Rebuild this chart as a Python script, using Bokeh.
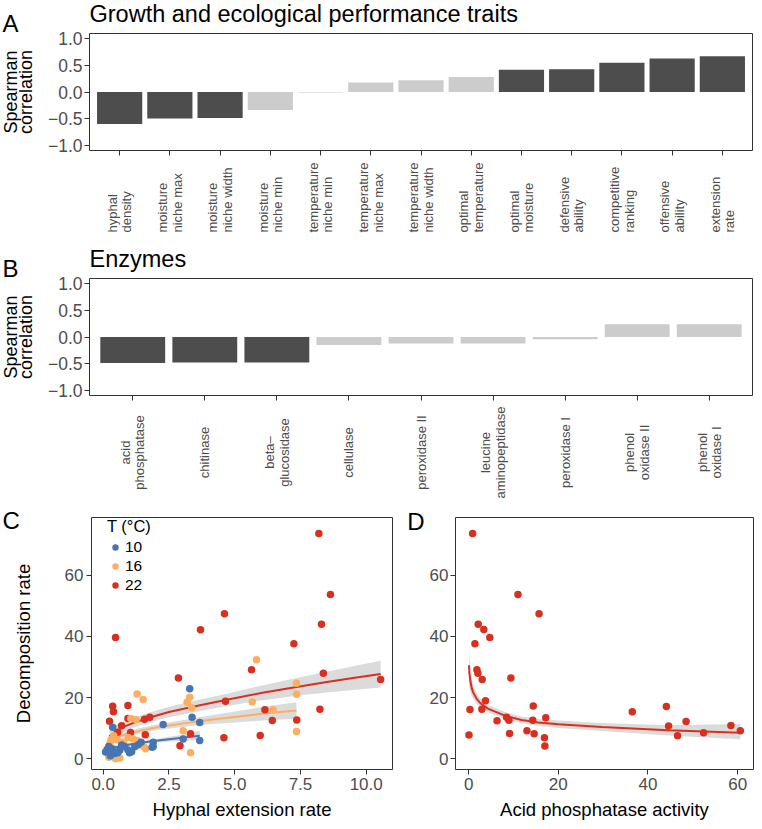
import numpy as np
from bokeh.plotting import figure
from bokeh.models import Range1d, FixedTicker, Legend, LegendItem
from bokeh.core.properties import value
from bokeh.layouts import column, row
from bokeh.embed import file_html
from bokeh.resources import INLINE

FONT = "Liberation Sans"

# ---------------- data ----------------
a_traits = ["hyphal\ndensity", "moisture\nniche max", "moisture\nniche width", "moisture\nniche min",
            "temperature\nniche min", "temperature\nniche max", "temperature\nniche width",
            "optimal\ntemperature", "optimal\nmoisture", "defensive\nability", "competitive\nranking",
            "offensive\nability", "extension\nrate"]
a_rho = [-0.60, -0.50, -0.49, -0.34, -0.01, 0.18, 0.22, 0.28, 0.42, 0.43, 0.55, 0.63, 0.67]
a_signif = [True, True, True, False, False, False, False, False, True, True, True, True, True]

b_enzymes = ["acid\nphosphatase", "chitinase", "beta–\nglucosidase", "cellulase", "peroxidase II",
             "leucine\naminopeptidase", "peroxidase I", "phenol\noxidase II", "phenol\noxidase I"]
b_rho = [-0.49, -0.48, -0.48, -0.15, -0.12, -0.12, -0.04, 0.24, 0.24]
b_signif = [True, True, True, False, False, False, False, False, False]

y_ticks_rho = [-1.0, -0.5, 0.0, 0.5, 1.0]
y_tick_labels_rho = ["−1.0", "−0.5", "0.0", "0.5", "1.0"]

temps = ["10", "16", "22"]
temp_colors = ["#4575b4", "#fdae61", "#d7301f"]

c10_x = [3.29, 3.38, 3.67, 3.67, 3.04, 2.28, 0.36, 1.90, 1.90, 0.09, 0.21, 0.34, 0.43, 0.63, 0.81,
         0.94, 1.08, 1.20, 1.33, 0.27, 0.15, 0.55, 0.70, 1.00, 1.44, 1.86]
c10_y = [22.9, 13.6, 11.9, 6.0, 6.5, 11.2, 10.3, 5.4, 4.0, 2.2, 4.0, 3.3, 1.7, 2.8, 4.0,
         2.9, 2.3, 3.9, 4.6, 1.0, 3.0, 2.0, 4.5, 2.0, 5.4, 3.8]
c16_x = [5.83, 7.35, 7.35, 5.67, 6.46, 7.35, 3.29, 3.19, 3.36, 3.04, 3.32, 1.29, 1.52, 1.05, 1.25,
         0.30, 0.21, 0.47, 0.63, 1.14, 1.29, 1.54, 1.61, 0.78, 0.40, 0.25, 0.53, 0.95]
c16_y = [32.4, 24.7, 21.1, 18.6, 16.0, 8.9, 20.1, 18.5, 16.7, 9.2, 2.0, 21.2, 19.4, 13.2, 12.8,
         6.2, 0.5, 0.0, 0.3, 6.5, 6.0, 4.0, 3.3, 5.4, 7.5, 5.0, 6.2, 7.0]
c22_x = [8.20, 8.64, 4.61, 3.70, 0.47, 8.30, 7.25, 5.64, 8.37, 10.55, 2.86, 4.65, 6.15, 8.24, 6.43,
         7.36, 4.59, 5.97, 3.32, 2.92, 0.36, 0.39, 0.24, 0.94, 0.94, 0.70, 1.04, 0.55, 1.57, 1.77, 1.60]
c22_y = [73.7, 53.7, 47.4, 42.2, 39.7, 44.0, 37.6, 29.1, 28.0, 25.9, 26.4, 18.8, 16.0, 16.2, 12.5,
         12.7, 6.9, 7.6, 8.2, 4.3, 17.2, 15.4, 12.3, 17.4, 13.2, 10.8, 8.6, 8.7, 12.9, 13.6, 7.9]

# fitted curves and 95% bands
c10_fit_x = [0.09, 0.2, 0.4, 0.7, 1.0, 1.5, 2.0, 2.5, 3.0, 3.67]
c10_fit_y = [2.7, 3.1, 3.6, 4.2, 4.7, 5.3, 5.9, 6.4, 6.9, 7.5]
c10_fit_lo = [1.7, 2.2, 2.9, 3.6, 4.15, 4.75, 5.3, 5.6, 5.9, 6.0]
c10_fit_hi = [3.7, 4.0, 4.3, 4.8, 5.25, 5.85, 6.5, 7.2, 7.9, 9.1]
c16_fit_x = [0.21, 0.4, 0.7, 1.0, 1.5, 2.0, 3.0, 4.0, 5.0, 6.0, 7.35]
c16_fit_y = [6.0, 6.8, 7.6, 8.35, 9.3, 10.2, 11.5, 12.7, 13.7, 14.7, 15.8]
c16_fit_lo = [4.2, 5.5, 6.6, 7.45, 8.4, 9.3, 10.4, 11.3, 11.9, 12.5, 13.1]
c16_fit_hi = [7.8, 8.1, 8.6, 9.25, 10.2, 11.1, 12.6, 14.1, 15.5, 16.9, 18.5]
c22_fit_x = [0.24, 0.47, 0.8, 1.2, 1.8, 2.5, 3.5, 4.65, 6.0, 7.35, 8.5, 9.5, 10.55]
c22_fit_y = [7.4, 9.0, 10.5, 11.9, 13.6, 15.3, 17.2, 19.2, 21.5, 23.5, 25.1, 26.4, 27.7]
c22_fit_lo = [4.8, 7.0, 8.8, 10.3, 12.0, 13.6, 15.3, 17.2, 19.1, 20.6, 21.7, 22.5, 23.3]
c22_fit_hi = [10.0, 11.0, 12.2, 13.5, 15.2, 17.0, 19.1, 21.2, 23.9, 26.4, 28.5, 30.3, 32.1]

d_x = [0.88, 11.0, 15.7, 2.13, 3.38, 4.71, 1.40, 1.84, 2.06, 3.02, 9.42, 3.75, 0.29, 2.94, 14.4,
       6.33, 8.46, 8.98, 14.3, 17.2, 13.0, 14.6, 9.12, 16.9, 17.0, 0.07, 36.5, 44.1, 44.6, 46.6,
       48.5, 52.4, 58.5, 60.6]
d_y = [73.7, 53.7, 47.4, 44.0, 42.3, 39.7, 37.6, 29.1, 28.0, 25.9, 26.4, 19.0, 16.1, 16.2, 17.3,
       12.4, 13.6, 12.6, 12.6, 13.4, 9.2, 8.2, 8.3, 6.9, 4.2, 7.8, 15.4, 17.1, 10.7, 7.5,
       12.2, 8.5, 10.9, 9.2]
d_fit_x = [0.07, 0.15, 0.37, 0.7, 1.1, 1.8, 2.6, 4.4, 8.1, 11.8, 15.5, 20, 29.7, 44.5, 60.6]
d_fit_y = [30.6, 28.2, 25.6, 23.0, 21.4, 19.6, 18.2, 16.3, 14.1, 12.7, 11.9, 11.3, 10.4, 9.3, 8.5]
d_fit_lo = [24.5, 23.5, 22.0, 20.5, 19.3, 17.9, 16.8, 15.1, 13.0, 11.6, 10.8, 10.1, 9.1, 7.6, 6.4]
d_fit_hi = [37.5, 33.5, 29.5, 25.8, 23.6, 21.4, 19.7, 17.6, 15.3, 13.8, 13.0, 12.5, 11.7, 11.0, 11.4]

c_xticks = [0, 2.5, 5, 7.5, 10]
c_xtick_labels = ["0.0", "2.5", "5.0", "7.5", "10.0"]
cd_yticks = [0, 20, 40, 60]
d_xticks = [0, 20, 40, 60]

DARK = "#4d4d4d"
LIGHT = "#cccccc"
TICK_COL = "#333333"
TICKLAB_COL = "#4d4d4d"
W = 760


# ---------------- helpers ----------------
def style_axes(p, size):
    p.xgrid.visible = False
    p.ygrid.visible = False
    p.outline_line_color = "#333333"
    p.outline_line_width = 1
    p.background_fill_color = "white"
    p.border_fill_color = "white"
    for ax in (p.xaxis[0], p.yaxis[0]):
        ax.axis_line_color = None
        ax.major_tick_line_color = TICK_COL
        ax.major_tick_out = 5
        ax.major_tick_in = 0
        ax.minor_tick_line_color = None
        ax.major_label_text_font = FONT
        ax.major_label_text_color = TICKLAB_COL
        ax.major_label_text_font_size = size
        ax.major_label_standoff = 2
        ax.axis_label_text_font = FONT
        ax.axis_label_text_font_style = "normal"
        ax.axis_label_text_color = "black"
        ax.axis_label_text_font_size = "18.5px"


def strip(w, h, xr=None, bl=0, br=0):
    fw = w - bl - br
    p = figure(width=w, height=h, x_range=xr if xr is not None else Range1d(0, fw),
               y_range=Range1d(0, h), output_backend="svg", toolbar_location=None,
               title_location=None, x_axis_location=None, y_axis_location=None,
               min_border_left=bl, min_border_right=br, min_border_top=0, min_border_bottom=0)
    p.outline_line_color = None
    p.background_fill_color = "white"
    p.border_fill_color = "white"
    p.grid.visible = False
    return p


def put_text(p, xs, ys, texts, size, color="black", angle=0.0, align="left", baseline="middle"):
    p.text(x=xs, y=ys, text=texts, angle=angle, text_align=align, text_baseline=baseline,
           text_font=value(FONT), text_font_size=value(size), text_color=color)


def mid(baseline_from_bottom, size_px):
    # vertical centre of a text line whose alphabetic baseline sits at the given height
    return baseline_from_bottom + 0.3465 * size_px


def bar_block(cats, vals, signif, letter, title, label_mode, label_local_y, labels_h):
    n = len(cats)
    xr = Range1d(0.4, n + 0.6)
    # left strip: panel letter + y-axis title (156 px tall, 41 wide)
    left = strip(41, 156)
    put_text(left, [2], [mid(156 - 31.5, 24)], [letter], "24px")
    put_text(left, [10.5, 25.5], [64.5, 64.5], ["Spearman", "correlation"], "18px",
             angle=np.pi / 2, align="center")
    # title strip (28 px), frame aligned with the bar frame
    ht = strip(W - 41, 28, bl=48, br=8)
    put_text(ht, [0], [mid(28 - 21.5, 23.5)], [title], "23.5px")
    # bars: frame 117 px, 5 px above for the top tick label, 6 px below for ticks
    p = figure(width=W - 41, height=128, x_range=xr, y_range=Range1d(-1.1, 1.1),
               output_backend="svg", toolbar_location=None, title_location=None,
               min_border_left=48, min_border_right=8, min_border_top=5, min_border_bottom=6)
    style_axes(p, "17.5px")
    xs = list(range(1, n + 1))
    colors = [DARK if s else LIGHT for s in signif]
    p.vbar(x=xs, top=vals, bottom=0, width=0.9, fill_color=colors, line_color=None)
    p.yaxis.ticker = FixedTicker(ticks=y_ticks_rho)
    p.yaxis.major_label_overrides = {t: l for t, l in zip(y_ticks_rho, y_tick_labels_rho)}
    p.xaxis.ticker = FixedTicker(ticks=xs)
    # tick marks only: category names are drawn in the strip below
    p.xaxis.major_label_text_color = None
    p.xaxis.major_label_text_font_size = "1px"
    p.xaxis.major_label_standoff = 0
    # category labels strip (shares x range)
    lab = strip(W, labels_h, xr=xr, bl=89, br=8)
    px_per_unit = (752 - 89) / (n + 0.2)
    lh = 14.5 / px_per_unit
    lx, ly, lt = [], [], []
    for i, c in enumerate(cats):
        parts = c.split("\n")
        k = len(parts)
        for j, part in enumerate(parts):
            lx.append(xs[i] + (j - (k - 1) / 2) * lh)
            ly.append(label_local_y)
            lt.append(part)
    put_text(lab, lx, ly, lt, "13px", color=TICKLAB_COL, angle=np.pi / 2, align=label_mode)
    return [row(column(left), column(ht, p)), lab]


# ---------------- panels A & B ----------------
blockA = bar_block(a_traits, a_rho, a_signif, "A", "Growth and ecological performance traits",
                   "left", 13, 89)
blockB = bar_block(b_enzymes, b_rho, b_signif, "B", "Enzymes", "center", 47, 98)

# ---------------- panel C ----------------
HCD = 327  # row height (page y 499..826)
leftC = strip(34, HCD)
put_text(leftC, [2], [mid(826 - 528, 24)], ["C"], "24px")
put_text(leftC, [22.5], [826 - 643], ["Decomposition rate"], "18.5px", angle=np.pi / 2, align="center")

yr_cd = (-3.5, 78.9)
pC = figure(width=359, height=HCD, x_range=Range1d((91 - 102.7) / 26.3, (392 - 102.7) / 26.3),
            y_range=Range1d(*yr_cd), output_backend="svg", toolbar_location=None, title_location=None,
            min_border_left=57, min_border_right=1, min_border_top=18, min_border_bottom=57)
style_axes(pC, "17px")
pC.xaxis.ticker = FixedTicker(ticks=c_xticks)
pC.xaxis.major_label_overrides = {t: l for t, l in zip(c_xticks, c_xtick_labels)}
pC.yaxis.ticker = FixedTicker(ticks=cd_yticks)
pC.xaxis.axis_label = "Hyphal extension rate"
pC.xaxis.axis_label_standoff = 6
pC.xaxis.major_label_standoff = 3
pC.yaxis.major_label_standoff = 3

fits = [(c10_fit_x, c10_fit_y, c10_fit_lo, c10_fit_hi),
        (c16_fit_x, c16_fit_y, c16_fit_lo, c16_fit_hi),
        (c22_fit_x, c22_fit_y, c22_fit_lo, c22_fit_hi)]
for fx, fy, flo, fhi in fits:
    pC.varea(x=fx, y1=flo, y2=fhi, fill_color="#999999", fill_alpha=0.35)
for (fx, fy, flo, fhi), col in zip(fits, temp_colors):
    pC.line(fx, fy, line_color=col, line_width=2)

groups = [(c10_x, c10_y), (c16_x, c16_y), (c22_x, c22_y)]
renderers = {}
for (gx, gy), col, t in reversed(list(zip(groups, temp_colors, temps))):
    renderers[t] = pC.scatter(gx, gy, size=7.5, fill_color=col, line_color=None)

legend = Legend(items=[LegendItem(label=t, renderers=[renderers[t]]) for t in temps],
                location=(16, 175), title="T (°C)", title_text_font=FONT, title_text_font_size="16.5px",
                title_text_font_style="normal", title_text_color="black", title_standoff=2,
                label_text_font=FONT, label_text_font_size="15.5px", label_text_color="black",
                glyph_width=16, glyph_height=16, label_height=16, label_standoff=2, spacing=1,
                padding=0, margin=0, background_fill_alpha=0.0, border_line_color=None)
pC.add_layout(legend)

# ---------------- panel D ----------------
stripD = strip(33, HCD)
put_text(stripD, [31], [mid(826 - 529, 24)], ["D"], "24px", align="right")

pD = figure(width=W - 426, height=HCD, x_range=Range1d((452 - 465.3) / 4.528, (753 - 465.3) / 4.528),
            y_range=Range1d(*yr_cd), output_backend="svg", toolbar_location=None, title_location=None,
            min_border_left=26, min_border_right=7, min_border_top=18, min_border_bottom=57)
style_axes(pD, "17px")
pD.xaxis.ticker = FixedTicker(ticks=d_xticks)
pD.yaxis.ticker = FixedTicker(ticks=cd_yticks)
pD.xaxis.axis_label = "Acid phosphatase activity"
pD.xaxis.axis_label_standoff = 6
pD.xaxis.major_label_standoff = 3
pD.yaxis.major_label_standoff = 2
pD.varea(x=d_fit_x, y1=d_fit_lo, y2=d_fit_hi, fill_color="#999999", fill_alpha=0.35)
pD.line(d_fit_x, d_fit_y, line_color=temp_colors[2], line_width=2)
pD.scatter(d_x, d_y, size=7.5, fill_color=temp_colors[2], line_color=None)

layout = column(*blockA, *blockB, row(column(leftC), pC, column(stripD), pD))
open("out.html", "w").write(file_html(layout, INLINE))
